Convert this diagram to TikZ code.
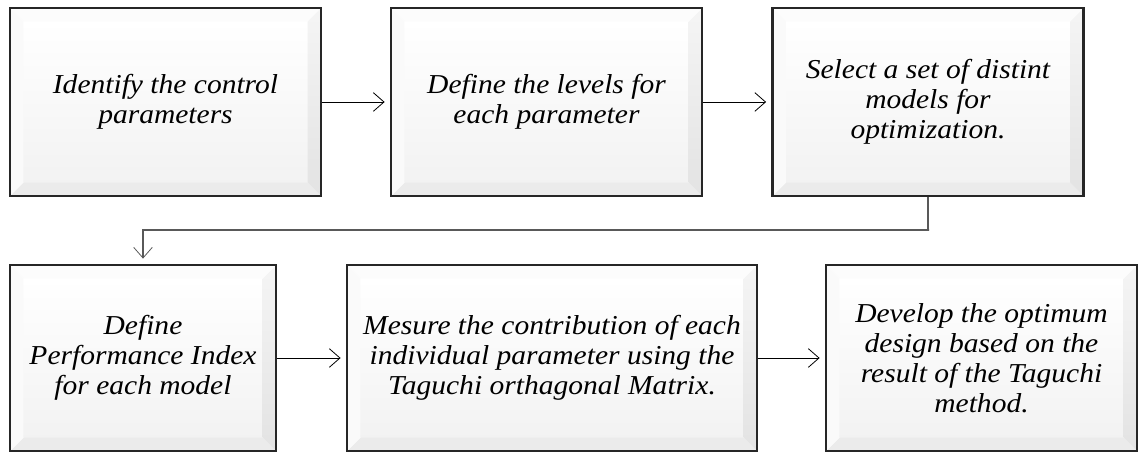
\documentclass[tikz,border=0pt]{standalone}
\usepackage{fontspec}
\setmainfont{Liberation Serif}[FakeStretch=1.08]
\usepackage{tikz}
\usetikzlibrary{calc,arrows.meta,positioning}

\newcommand{\bevw}{10pt}
\tikzset{
  stepbox/.style={draw=black!85, line width=1.6pt, align=center, inner sep=0pt,
    font=\fontsize{20.5}{22.5}\selectfont\itshape,
    path picture={
      \path (path picture bounding box.south west) coordinate (bSW)
            (path picture bounding box.north east) coordinate (bNE);
      \path (bSW -| bNE) coordinate (bSE) (bSW |- bNE) coordinate (bNW);
      \path ($(bSW)+(\bevw,\bevw)$) coordinate (iSW) ($(bNE)-(\bevw,\bevw)$) coordinate (iNE);
      \path (iSW -| iNE) coordinate (iSE) (iSW |- iNE) coordinate (iNW);
      \shade[top color=white, bottom color=black!5] (iSW) rectangle (iNE);
      \fill[black!8] (bSW) -- (bSE) -- (iSE) -- (iSW) -- cycle;
      \shade[top color=black!4, bottom color=black!11] (bSE) -- (bNE) -- (iNE) -- (iSE) -- cycle;
      \fill[black!1] (bNW) -- (bNE) -- (iNE) -- (iNW) -- cycle;
      \fill[black!2] (bSW) -- (bNW) -- (iNW) -- (iSW) -- cycle;
    }},
  widebox/.style={stepbox, minimum width=233.25pt, minimum height=141pt},
  flow/.style={-{Straight Barb[length=8pt,width=14pt,line width=0.6pt]}, line width=0.6pt, shorten >=4pt},
  turnflow/.style={flow, draw=black!65, line width=1pt}
}

\begin{document}
\begin{tikzpicture}[x=0.75pt,y=-0.75pt]
\useasboundingbox (0,0) rectangle (1139,452);

%Shape: Rectangle [top row]
\node[widebox] (ident) at (165.5,102) {Identify the control\\parameters};
%Shape: Rectangle
\node[widebox] (levels) at (546.5,102) {Define the levels for\\each parameter};
%Shape: Rectangle
\node[widebox] (select) at (928,102) {Select a set of distint\\models for\\optimization.};

%Shape: Rectangle [bottom row]
\node[stepbox, minimum width=199.5pt, minimum height=139.5pt] (perf) at (143,358) {Define\\Performance Index\\for each model};
%Shape: Rectangle
\node[stepbox, minimum width=307.5pt, minimum height=139.5pt] (mesure) at (552,358) {Mesure the contribution of each\\individual parameter using the\\Taguchi orthagonal Matrix.};
%Shape: Rectangle
\node[stepbox, minimum width=233.25pt, minimum height=139.5pt] (develop) at (981.5,358) {Develop the optimum\\design based on the\\result of the Taguchi\\method.};

%Straight Lines
\draw[flow] (ident) -- (levels);
\draw[flow] (levels) -- (select);
\draw[flow] (perf) -- (mesure);
\draw[flow] (mesure) -- (develop);

%Straight Lines [turn down to second row]
\coordinate (bend) at (929,230);
\draw[turnflow] (select.south) |- (bend) -| (perf.north);

\end{tikzpicture}
\end{document}
